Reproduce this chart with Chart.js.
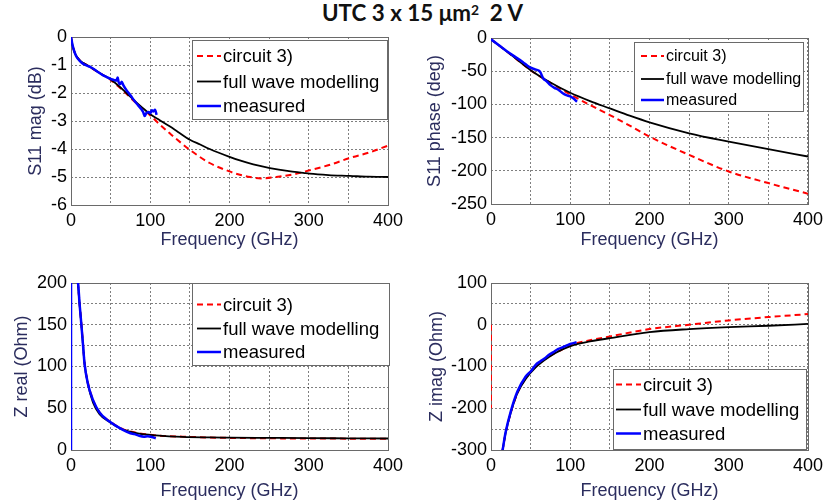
<!DOCTYPE html>
<html><head><meta charset="utf-8">
<script src="https://cdn.jsdelivr.net/npm/chart.js@4.4.1/dist/chart.umd.min.js"></script>
<style>
html,body{margin:0;padding:0;background:#fff;width:828px;height:502px;overflow:hidden;position:relative;}
canvas{position:absolute;}
#title{position:absolute;top:2px;left:322px;font-family:Lato,"Open Sans",sans-serif;font-weight:700;font-size:20px;white-space:pre;line-height:1;color:#111;}
#title sup{font-size:0.62em;position:relative;top:-0.45em;vertical-align:baseline;line-height:0;}
</style></head><body>
<div id="title">UTC 3 x 15 μm<sup>2</sup>  2 V</div>
<canvas id="c1" width="414" height="251" style="left:0;top:0"></canvas>
<canvas id="c2" width="414" height="251" style="left:414px;top:0"></canvas>
<canvas id="c3" width="414" height="251" style="left:0;top:251px"></canvas>
<canvas id="c4" width="414" height="251" style="left:414px;top:251px"></canvas>
<script>
// ---------- DATA ----------
const seriesLabels = ['circuit 3)', 'full wave modelling', 'measured'];

// S11 magnitude (dB)
const s11MagCircuitFreq = [0,2,5,10,15,20,30,40,50,60,70,80,90,100,110,125,150,175,200,213,226,240,259,285,301,327,352,377,400];
const s11MagCircuit     = [0,-0.3,-0.58,-0.8,-0.92,-1.0,-1.18,-1.35,-1.53,-1.77,-2.03,-2.3,-2.55,-2.8,-3.07,-3.45,-4.03,-4.5,-4.8,-4.92,-5.0,-5.05,-5.0,-4.88,-4.76,-4.56,-4.32,-4.12,-3.88];
const s11MagFullWaveFreq = [0,2,5,10,15,20,30,40,50,60,70,80,90,100,112,125,135,150,163,175,200,213,230,251,275,293,301,325,352,375,400];
const s11MagFullWave     = [0,-0.3,-0.58,-0.8,-0.92,-1.0,-1.18,-1.35,-1.52,-1.74,-2.0,-2.27,-2.52,-2.76,-2.97,-3.2,-3.39,-3.67,-3.84,-4.0,-4.28,-4.41,-4.55,-4.68,-4.79,-4.85,-4.88,-4.93,-4.96,-4.99,-5.0];
const s11MagMeasFreq = [0,1,2,4,6,8,11,15,20,25,30,35,40,45,50,54,57,59,60,62,64,66,70,75,80,85,88,91,93,95,98,100,102,104,106,108];
const s11MagMeas     = [0,-0.15,-0.3,-0.5,-0.65,-0.75,-0.85,-0.95,-1.02,-1.08,-1.17,-1.27,-1.36,-1.43,-1.5,-1.53,-1.56,-1.45,-1.6,-1.68,-1.6,-1.72,-1.9,-2.08,-2.28,-2.45,-2.55,-2.68,-2.82,-2.72,-2.68,-2.72,-2.62,-2.66,-2.6,-2.78];

// S11 phase (deg)
const phaseSimFreq      = [0,25,50,75,100,125,150,175,200,250,300,350,400];
const phaseCircuit      = [-2,-25,-48.5,-67.5,-85,-101,-116,-132,-148.5,-176,-201,-218.5,-234.5];
const phaseFullWave     = [-2,-25,-48.5,-67,-82.5,-95,-106,-117,-127,-143.5,-156,-167.5,-178.5];
const phaseMeasFreq = [0,10,20,30,40,48,55,60,62,66,70,75,80,85,91,95,100,105,108.5];
const phaseMeas     = [-2,-11,-20,-28,-36,-43.5,-47,-49,-51,-61,-65,-71,-75,-78,-83.5,-86,-88,-92,-96];

// Z real (Ohm)
const zRealCircuitFreq = [7.5,8.8,10.9,13.1,15.1,17.2,21.4,27.7,36,48.6,65.5,86.4,107,141,175,200,250,300,350,400];
const zRealCircuit     = [225,200,175,151,128,104,80.5,60,45,34.5,25,20,17.5,16,15,14.5,14,13.8,13.6,13.5];
const zRealFullWaveFreq = [7.5,8.8,10.9,13.1,15.1,17.2,21.4,27.7,36,48.6,65.5,86.4,107,141,175,200,250,300,350,400];
const zRealFullWave     = [225,200,174,150,126.5,102.5,78.6,57,43,33.5,24.5,19.5,17.5,15.6,15,14.8,14.5,14.2,14,13.8];
const zRealMeasFreq = [0,0.5,7.5,8.8,10.9,13.1,15.1,17.2,21.4,27.7,36,48.6,65.5,75,80,86,92,97,102,107];
const zRealMeas     = [0,3000,225,200,174,150,126.5,102.5,79,60,45,34,24,20,19,17,16,16.5,15.5,14];

// Z imag (Ohm)
const zImagCircuitFreq = [0,0.01,null,14.4,18.5,24.9,33.3,43.8,56.4,73.2,90.1,107,125,150,200,250,300,350,400];
const zImagCircuit     = [0,-200,null,-303,-259,-211,-164,-128,-100,-76,-59,-45,-37,-28,-10.4,0,10.4,18.4,25.5];
const zImagFullWaveFreq = [14.4,18.5,24.9,33.3,43.8,56.4,73.2,90.1,107,125,150,200,250,300,350,400];
const zImagFullWave     = [-303,-259,-211,-164,-130,-102,-77,-59,-47,-40,-32,-17.6,-10.4,-5.6,-2.4,2];
const zImagMeasFreq = [14.4,18.5,24.9,33.3,43.8,50,56.4,62,68,73.2,80,85,90.1,95,100,104,108];
const zImagMeas     = [-303,-257,-208,-160,-124,-112,-96,-88,-80,-72,-64,-58,-54,-50,-46,-44,-42];

// ---------- RENDERING ----------
const FONT = '"Liberation Sans", Arial, sans-serif';
const NAVY = '#2b2d5e';
const pts = (xs, ys) => xs.map((x, i) => ({x: x, y: ys[i]}));

function datasets(cf, cy, ff, fy, mf, my) {
  return [
    {label: seriesLabels[0], data: pts(cf, cy), borderColor: '#ff0000', borderWidth: 2, borderDash: [6, 4], order: 2},
    {label: seriesLabels[1], data: pts(ff, fy), borderColor: '#000000', borderWidth: 1.8, order: 1},
    {label: seriesLabels[2], data: pts(mf, my), borderColor: '#0000ff', borderWidth: 2.5, order: 0}
  ];
}

const boxLegend = {
  id: 'boxLegend',
  beforeDatasetsDraw(chart) {
    const {ctx, chartArea: a} = chart;
    ctx.save();
    ctx.strokeStyle = '#6a6a6a';
    ctx.lineWidth = 1;
    ctx.strokeRect(Math.round(a.left) + 0.5, Math.round(a.top) + 0.5, Math.round(a.right - a.left), Math.round(a.bottom - a.top));
    ctx.restore();
  },
  afterDatasetsDraw(chart, args, o) {
    const ctx = chart.ctx;
    ctx.save();
    ctx.fillStyle = '#fff';
    ctx.fillRect(o.x, o.y, o.w, o.h);
    ctx.strokeStyle = '#6a6a6a';
    ctx.lineWidth = 1;
    ctx.strokeRect(o.x + 0.5, o.y + 0.5, o.w, o.h);
    ctx.font = o.fontSize + 'px ' + FONT;
    ctx.textBaseline = 'middle';
    chart.data.datasets.forEach((ds, i) => {
      const y = o.rows[i];
      ctx.strokeStyle = ds.borderColor;
      ctx.lineWidth = ds.borderWidth;
      ctx.setLineDash(ds.borderDash || []);
      ctx.beginPath();
      ctx.moveTo(o.lineX0, y);
      ctx.lineTo(o.lineX1, y);
      ctx.stroke();
      ctx.setLineDash([]);
      ctx.fillStyle = '#000';
      ctx.fillText(ds.label, o.textX, y + 1);
    });
    ctx.restore();
  }
};

function makeChart(id, cfg) {
  return new Chart(document.getElementById(id), {
    type: 'line',
    data: {datasets: cfg.datasets},
    plugins: [boxLegend],
    options: {
      responsive: false,
      animation: false,
      devicePixelRatio: 1,
      layout: {padding: {top: cfg.top, right: cfg.right, left: 0, bottom: 0}},
      elements: {point: {radius: 0, hoverRadius: 0}, line: {cubicInterpolationMode: 'monotone', fill: false}},
      plugins: {legend: {display: false}, tooltip: {enabled: false}, boxLegend: cfg.legend},
      scales: {
        x: {
          type: 'linear', min: 0, max: 400,
          ticks: {stepSize: 50, padding: cfg.xTickPad, autoSkip: false, maxRotation: 0, color: '#000',
                  font: {family: FONT, size: 18}, callback: v => (v % 100 === 0 ? String(v) : '')},
          grid: {color: 'rgba(0,0,0,0.5)', lineWidth: 1, drawTicks: false},
          border: {display: false, dash: [2, 2]},
          title: {display: true, text: 'Frequency (GHz)', color: NAVY, font: {family: FONT, size: 18}, padding: {top: 0, bottom: 0}},
          afterFit: s => { s.height = cfg.xh; }
        },
        y: {
          type: 'linear', min: cfg.ymin, max: cfg.ymax,
          ticks: {stepSize: cfg.ystep, padding: 4, autoSkip: false, color: '#000',
                  font: {family: FONT, size: 18}, callback: v => (v % cfg.ylabelStep === 0 ? String(v) : '')},
          grid: {color: 'rgba(0,0,0,0.5)', lineWidth: 1, drawTicks: false},
          border: {display: false, dash: [2, 2]},
          title: {display: true, text: cfg.ytitle, color: NAVY, font: {family: FONT, size: 18}, padding: {top: cfg.yTitlePad, bottom: 0}},
          afterFit: s => { s.width = cfg.yw; }
        }
      }
    }
  });
}

makeChart('c1', {
  datasets: datasets(s11MagCircuitFreq, s11MagCircuit, s11MagFullWaveFreq, s11MagFullWave, s11MagMeasFreq, s11MagMeas),
  top: 37, right: 26, yw: 71, xh: 46, xTickPad: 5,
  ymin: -6, ymax: 0, ystep: 1, ylabelStep: 1, ytitle: 'S11 mag (dB)', yTitlePad: 25,
  legend: {x: 192, y: 40, w: 195, h: 79, rows: [56, 81.5, 106], lineX0: 197, lineX1: 221, textX: 223, fontSize: 18.5}
});
makeChart('c2', {
  datasets: datasets(phaseSimFreq, phaseCircuit, phaseSimFreq, phaseFullWave, phaseMeasFreq, phaseMeas),
  top: 38, right: 20, yw: 77, xh: 47, xTickPad: 5,
  ymin: -250, ymax: 0, ystep: 50, ylabelStep: 50, ytitle: 'S11 phase (deg)', yTitlePad: 10,
  legend: {x: 220, y: 42, w: 169, h: 69, rows: [56, 79, 100], lineX0: 227, lineX1: 250, textX: 252, fontSize: 16}
});
makeChart('c3', {
  datasets: datasets(zRealCircuitFreq, zRealCircuit, zRealFullWaveFreq, zRealFullWave, zRealMeasFreq, zRealMeas),
  top: 32, right: 26, yw: 71, xh: 52, xTickPad: 5,
  ymin: 0, ymax: 200, ystep: 25, ylabelStep: 50, ytitle: 'Z real (Ohm)', yTitlePad: 11,
  legend: {x: 192, y: 32, w: 197, h: 82, rows: [53.5, 77.5, 101], lineX0: 197, lineX1: 221, textX: 223, fontSize: 18.5}
});
makeChart('c4', {
  datasets: datasets(zImagCircuitFreq, zImagCircuit, zImagFullWaveFreq, zImagFullWave, zImagMeasFreq, zImagMeas),
  top: 32, right: 20, yw: 77, xh: 52, xTickPad: 5,
  ymin: -300, ymax: 100, ystep: 50, ylabelStep: 100, ytitle: 'Z imag (Ohm)', yTitlePad: 12,
  legend: {x: 199, y: 118, w: 193, h: 80, rows: [133.5, 158.5, 182.5], lineX0: 202, lineX1: 227, textX: 229, fontSize: 18.5}
});

// fit title width to the reference span
(function () {
  const t = document.getElementById('title');
  const target = 201;
  const w = t.getBoundingClientRect().width;
  const fs = 20 * target / w;
  t.style.fontSize = fs.toFixed(2) + 'px';
})();
</script>
</body></html>
